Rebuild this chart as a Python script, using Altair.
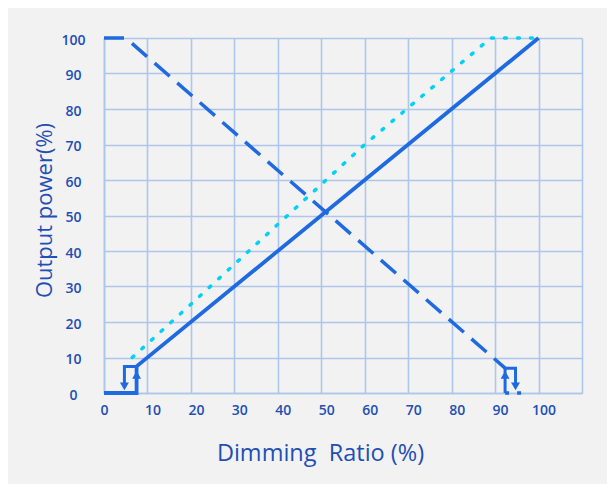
import altair as alt
import pandas as pd

# ---- data ----
# solid curve: base, rising step, then linear to 100%
solid_x = [0, 7.5, 7.5, 100]
solid_y = [0, 0, 7.5, 100]
# solid curve hysteresis hook (falling branch)
solid_hook_x = [7.5, 4.7, 4.7]
solid_hook_y = [7.5, 7.5, 1.5]

# dashed (inverse) curve
dashed_x = [0, 5, 92.3]
dashed_y = [100, 100, 7]
dashed_base_x = [92.3, 96.6]
dashed_base_y = [0, 0]
# dashed curve hysteresis box (drawn solid)
dashed_hook_x = [92.3, 94.7, 94.7]
dashed_hook_y = [7, 7, 1.5]
dashed_rise_x = [92.3, 92.3]
dashed_rise_y = [0, 7]

# dotted curve
dotted_x = [6.5, 20, 40, 60, 89, 100]
dotted_y = [10, 25, 47.5, 70, 100, 100]

# arrow heads
arrow_x = [7.5, 4.7, 92.3, 94.7]
arrow_y = [5.1, 1.9, 5.1, 1.9]
arrow_dir = ["triangle-up", "triangle-down", "triangle-up", "triangle-down"]

x_ticks = [0, 10, 20, 30, 40, 50, 60, 70, 80, 90, 100, 110]
y_ticks = [0, 10, 20, 30, 40, 50, 60, 70, 80, 90, 100]

BLUE = "#1f6ae0"
CYAN = "#00d2f5"
TXT = "#1f4fb4"
GRID = "#adc6ea"
FONT = "Open Sans"


def frame(xs, ys):
    return pd.DataFrame({"x": xs, "y": ys, "o": list(range(len(xs)))})


xs = alt.Scale(domain=[0, 110], nice=False, zero=False)
ys = alt.Scale(domain=[0, 100], nice=False, zero=False)

x_axis = alt.Axis(
    values=x_ticks, grid=True, ticks=False, domain=True,
    labelExpr="datum.value > 100 ? '' : datum.label",
    title="Dimming\u00a0 Ratio (%)",
    titleX=216, titleY=60, titleAlign="center", titleBaseline="middle",
    titleFontSize=23.5,
    labelPadding=10, labelOffset=5, labelFlush=True, labelFlushOffset=9,
)
y_axis = alt.Axis(
    values=y_ticks, grid=True, ticks=False, domain=True,
    title="Output power(%)",
    titleX=-60, titleY=172, titleAlign="center", titleBaseline="middle",
    titleFontSize=22,
    labelAlign="center", labelPadding=31, labelOffset=2,
)

X = alt.X("x:Q", scale=xs, axis=x_axis)
Y = alt.Y("y:Q", scale=ys, axis=y_axis)


def line(df, color, width, dash=None, cap="butt"):
    kw = dict(color=color, strokeWidth=width, strokeCap=cap, clip=False)
    if dash:
        kw["strokeDash"] = dash
    return alt.Chart(df).mark_line(**kw).encode(x=X, y=Y, order="o:Q")


layers = [
    line(frame(dotted_x, dotted_y), CYAN, 3.5, dash=[2, 11], cap="round"),
    line(frame(dashed_x, dashed_y), BLUE, 3.5, dash=[20, 10]),
    line(frame(dashed_base_x, dashed_base_y), BLUE, 3.5, dash=[4, 8]),
    line(frame(dashed_hook_x, dashed_hook_y), BLUE, 3),
    line(frame(dashed_rise_x, dashed_rise_y), BLUE, 3),
    line(frame(solid_x, solid_y), BLUE, 3.8),
    line(frame(solid_hook_x, solid_hook_y), BLUE, 3),
]

arrows = alt.Chart(pd.DataFrame({"x": arrow_x, "y": arrow_y, "s": arrow_dir})).mark_point(
    filled=True, opacity=1, size=80, color=BLUE
).encode(
    x=X, y=Y,
    shape=alt.Shape("s:N", scale=alt.Scale(domain=["triangle-up", "triangle-down"],
                                           range=["triangle-up", "triangle-down"]), legend=None),
)

chart = alt.layer(*layers, arrows).properties(
    width=478, height=355,
    autosize=alt.AutoSizeParams(type="none"),
    padding={"left": 96, "top": 30, "right": 25, "bottom": 91},
    background="#f2f2f2",
).configure_view(strokeWidth=0).configure_axis(
    gridColor=GRID, gridWidth=1.6, domainColor=GRID, domainWidth=1.6,
    labelColor=TXT, labelFont=FONT, labelFontSize=14, labelFontWeight=600,
    titleColor=TXT, titleFont=FONT, titleFontWeight=500,
)

chart.save("out.html", embed_options={"renderer": "svg", "actions": False})
